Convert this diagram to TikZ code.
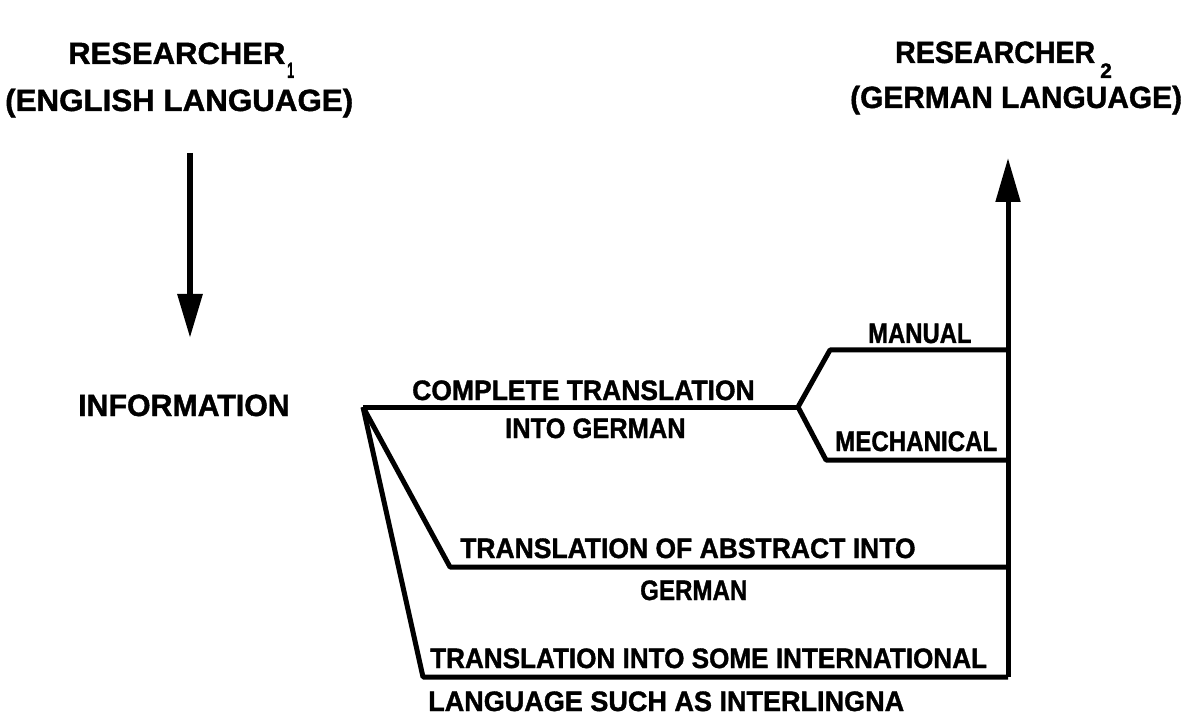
\documentclass[tikz,border=0pt]{standalone}
\usepackage{fontspec}
\setmainfont{Liberation Sans}[BoldFeatures={FakeBold=1.3}]
\usetikzlibrary{arrows.meta}
\newcommand\hsc[2]{\scalebox{#1}[1.06]{#2}}
\begin{document}
\begin{tikzpicture}[x=1pt,y=-1pt,
  lbl/.style={inner sep=0pt, anchor=base west, font=\bfseries\fontsize{26.5}{30}\selectfont},
  head/.style={inner sep=0pt, anchor=base west, font=\bfseries\fontsize{29}{32}\selectfont},
  subs/.style={inner sep=0pt, anchor=base west, font=\bfseries\fontsize{21}{24}\selectfont},
  conn/.style={line width=5pt, line join=round},
  bigarrow/.style={line width=6pt, -{Triangle[length=44pt,width=24pt]}}]
\useasboundingbox (0,0) rectangle (1192,719);
\fill[white] (0,0) rectangle (1192,719);
% headings
\node[head] (r1) at (68,64) {\hsc{1.07}{RESEARCHER}};
\node[subs] (r1s) at (287,78) {\hsc{0.6}{1}};
\node[head] (r1l) at (5,111) {\hsc{1.08}{(ENGLISH LANGUAGE)}};
\node[head] (r2) at (895,63) {\hsc{0.985}{RESEARCHER}};
\node[subs] (r2s) at (1100,78) {2};
\node[head] (r2l) at (850,108) {\hsc{1.03}{(GERMAN LANGUAGE)}};
\node[head] (info) at (78,416) {\hsc{1.045}{INFORMATION}};
% labels
\node[lbl] (ct) at (412,400) {\hsc{1.0}{COMPLETE TRANSLATION}};
\node[lbl] (ig) at (505,438) {\hsc{0.96}{INTO GERMAN}};
\node[lbl] (man) at (868,343) {\hsc{0.9}{MANUAL}};
\node[lbl] (mech) at (835,451) {\hsc{0.91}{MECHANICAL}};
\node[lbl] (abs) at (460,558) {\hsc{1.0}{TRANSLATION OF ABSTRACT INTO}};
\node[lbl] (absg) at (640,600) {\hsc{0.91}{GERMAN}};
\node[lbl] (intl) at (430,668) {\hsc{0.985}{TRANSLATION INTO SOME INTERNATIONAL}};
\node[lbl] (lang) at (428,711) {\hsc{1.02}{LANGUAGE SUCH AS INTERLINGNA}};
% coordinates
\coordinate (a1) at (190,153);
\coordinate (a2) at (190,338);
\coordinate (O) at (363,407);
\coordinate (B) at (798,407);
\coordinate (Mu) at (830,350);
\coordinate (Me) at (1008,350);
\coordinate (Md) at (826,460);
\coordinate (Mde) at (1008,460);
\coordinate (At) at (450,567);
\coordinate (Ae) at (1008,567);
\coordinate (It) at (423,677);
\coordinate (Ie) at (1008,677);
\coordinate (top) at (1008,158);
% connectors
\draw[bigarrow] (a1) -- (a2);
\draw[conn] (O) -- (B);
\draw[conn] (B) -- (Mu) -- (Me);
\draw[conn] (B) -- (Md) -- (Mde);
\draw[conn] (O) -- (At) -- (Ae);
\draw[conn] (O) -- (It) -- (Ie);
\draw[bigarrow, line width=5pt] (Ie) -- (top);
\end{tikzpicture}
\end{document}
